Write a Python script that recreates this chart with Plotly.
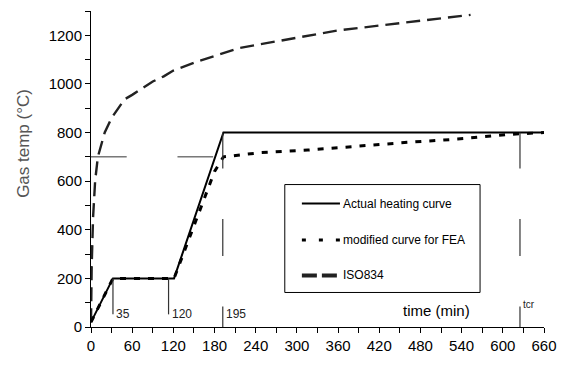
import plotly.graph_objects as go

# ---------------- data ----------------
actual_t = [0, 32, 121, 193, 660]
actual_T = [20, 200, 200, 800, 800]

fea_t = [0, 32, 121, 150, 180, 193, 246, 316, 387, 463, 534, 607, 660]
fea_T = [20, 200, 200, 420, 640, 700, 717, 728, 744, 760, 773, 792, 800]

iso_t = [0, 1, 3, 6, 10, 15, 20, 30, 49, 60, 90, 106, 120, 158, 180, 215, 240, 300, 360, 420, 480, 553]
iso_T = [20, 250, 450, 600, 700, 750, 800, 860, 937, 955, 1010, 1031, 1055, 1095, 1115, 1147, 1160, 1190, 1220, 1240, 1260, 1284]

ref_700_t = [0, 52, None, 126, 178]
ref_700_T = [700, 700, None, 700, 700]

event_t = [32, 113, 192, 625]
event_labels = ["35", "120", "195", "tcr"]
short_seg = [52, 200]
long_segs = [[0, 84], [292, 444], [652, 800]]

x_ticks = list(range(0, 661, 60))
y_ticks = list(range(0, 1201, 200))

legend_names = ["Actual heating curve", "modified curve for FEA", "ISO834"]

# ---------------- layout geometry ----------------
W, H = 568, 365
ML, MR, MT, MB = 91, 13, 11, 29
PW, PH = W - ML - MR, H - MT - MB
XR = [0, 660]
YR = [0, 1300]

def px_x(px):
    return (px - ML) / PW

def px_y(py):
    return (H - MB - py) / PH

FONT = "Liberation Sans, Arial, sans-serif"

fig = go.Figure()

# ISO834
fig.add_trace(go.Scatter(x=iso_t, y=iso_T, mode="lines",
                         line=dict(color="#222", width=2.4, dash="14px,7px"),
                         showlegend=False))
# modified curve
fig.add_trace(go.Scatter(x=fea_t, y=fea_T, mode="lines",
                         line=dict(color="#000", width=3, dash="6px,8px"),
                         showlegend=False))
# actual heating curve
fig.add_trace(go.Scatter(x=actual_t, y=actual_T, mode="lines",
                         line=dict(color="#000", width=2),
                         showlegend=False))
# 700 reference
fig.add_trace(go.Scatter(x=ref_700_t, y=ref_700_T, mode="lines",
                         line=dict(color="#333", width=1),
                         showlegend=False))

# event marker lines
vx, vy = [], []
for i, t in enumerate(event_t):
    if i < 2:
        vx += [t, t, None]
        vy += [short_seg[0], short_seg[1], None]
    else:
        for s in long_segs:
            vx += [t, t, None]
            vy += [s[0], s[1], None]
fig.add_trace(go.Scatter(x=vx, y=vy, mode="lines",
                         line=dict(color="#333", width=1.2),
                         showlegend=False))

annotations = []
label_y = [52, 52, 52, 92]
label_size = [12, 12, 12, 10]
for t, lab, ly, fs in zip(event_t, event_labels, label_y, label_size):
    annotations.append(dict(x=t, y=ly, xref="x", yref="y", text=lab,
                            showarrow=False, xanchor="left", yanchor="middle",
                            xshift=1, font=dict(family=FONT, size=fs, color="#222")))

annotations.append(dict(x=503, y=68, xref="x", yref="y", text="time (min)",
                        showarrow=False, xanchor="center", yanchor="middle",
                        font=dict(family=FONT, size=15, color="#000")))

annotations.append(dict(x=px_x(22), y=px_y(147), xref="paper", yref="paper",
                        text="Gas temp (°C)", textangle=-90, showarrow=False,
                        xanchor="center", yanchor="middle",
                        font=dict(family=FONT, size=17, color="#555")))

# custom legend
shapes = [dict(type="rect", xref="paper", yref="paper",
               x0=px_x(289.5), x1=px_x(489.5), y0=px_y(189.5), y1=px_y(300.5),
               line=dict(color="#000", width=1), fillcolor="white", layer="above")]
row_y = [209, 246.5, 283]
styles = [dict(color="#000", width=2, dash="solid"),
          dict(color="#000", width=3, dash="4px,13px"),
          dict(color="#222", width=4, dash="15px,5px")]
for name, ry, st in zip(legend_names, row_y, styles):
    shapes.append(dict(type="line", xref="paper", yref="paper",
                       x0=px_x(307), x1=px_x(346), y0=px_y(ry), y1=px_y(ry),
                       line=st, layer="above"))
    annotations.append(dict(x=px_x(347), y=px_y(ry), xref="paper", yref="paper",
                            text=name, showarrow=False, xanchor="left", yanchor="middle",
                            font=dict(family=FONT, size=12, color="#000")))

fig.update_layout(
    width=W, height=H,
    margin=dict(l=ML, r=MR, t=MT, b=MB, pad=0),
    paper_bgcolor="white", plot_bgcolor="white",
    showlegend=False,
    annotations=annotations, shapes=shapes,
    xaxis=dict(range=XR, tickvals=x_ticks, ticktext=[str(v) for v in x_ticks],
               showgrid=False, zeroline=False, showline=True, linecolor="#000", linewidth=1,
               ticks="outside", ticklen=5, tickcolor="#000",
               minor=dict(dtick=30, ticks="outside", ticklen=5, tickcolor="#000", showgrid=False),
               tickfont=dict(family=FONT, size=15, color="#000")),
    yaxis=dict(range=YR, tickvals=y_ticks, ticktext=[str(v) for v in y_ticks],
               showgrid=False, zeroline=False, showline=True, linecolor="#000", linewidth=1,
               ticks="outside", ticklen=5, tickcolor="#000",
               minor=dict(dtick=100, ticks="outside", ticklen=5, tickcolor="#000", showgrid=False),
               tickfont=dict(family=FONT, size=15, color="#000")),
)

fig.write_html("out.html")
